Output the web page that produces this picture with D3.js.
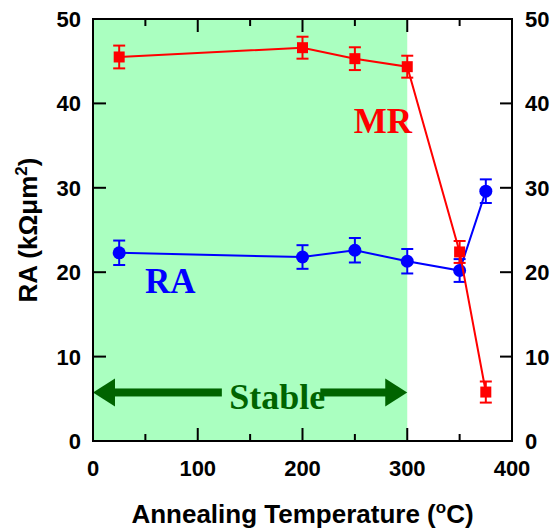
<!DOCTYPE html>
<html>
<head>
<meta charset="utf-8">
<script src="https://cdn.jsdelivr.net/npm/d3@7"></script>
<style>
  html, body { margin: 0; padding: 0; background: #fff; }
  svg { display: block; }
</style>
</head>
<body>
<script>
// ---- data ----
const temps = [25, 200, 250, 300, 350, 375];
const mrValues = [45.5, 46.6, 45.3, 44.35, 22.4, 5.8];
const mrErrors = [1.35, 1.3, 1.35, 1.3, 1.3, 1.25];
const raValues = [22.3, 21.8, 22.6, 21.3, 20.2, 29.6];
const raErrors = [1.45, 1.4, 1.45, 1.45, 1.35, 1.4];
const xTicks = [0, 100, 200, 300, 400];
const xMinorTicks = [50, 150, 250, 350];
const yTicks = [0, 10, 20, 30, 40, 50];
const stableRange = [0, 300];

const W = 553, H = 531;
const margin = {left: 93, right: 41, top: 19, bottom: 90};
const pw = W - margin.left - margin.right;
const ph = H - margin.top - margin.bottom;

const svg = d3.select("body").append("svg").attr("width", W).attr("height", H);
const g = svg.append("g").attr("transform", `translate(${margin.left},${margin.top})`);

const x = d3.scaleLinear().domain([0, 400]).range([0, pw]);
const y = d3.scaleLinear().domain([0, 50]).range([ph, 0]);

// shaded stable region
g.append("rect")
  .attr("x", x(stableRange[0])).attr("y", 0)
  .attr("width", x(stableRange[1]) - x(stableRange[0])).attr("height", ph)
  .attr("fill", "#aaffc0");

// stable arrow
const arrowY = y(5.75);
const green = "#006400";
const headL = 22, headH = 14, shaft = 8;
const gapL = x(123), gapR = x(217);
const x0 = x(stableRange[0]), x1 = x(stableRange[1]);
g.append("rect").attr("x", x0 + headL - 1).attr("y", arrowY - shaft/2)
  .attr("width", gapL - x0 - headL + 1).attr("height", shaft).attr("fill", green);
g.append("path").attr("d", `M${x0},${arrowY} L${x0+headL},${arrowY-headH} L${x0+headL},${arrowY+headH} Z`).attr("fill", green);
g.append("rect").attr("x", gapR).attr("y", arrowY - shaft/2)
  .attr("width", x1 - headL - gapR + 1).attr("height", shaft).attr("fill", green);
g.append("path").attr("d", `M${x1},${arrowY} L${x1-headL},${arrowY-headH} L${x1-headL},${arrowY+headH} Z`).attr("fill", green);
g.append("text").attr("x", x(130)).attr("y", y(3.8))
  .attr("font-family", "Liberation Serif, 'Times New Roman', serif")
  .attr("font-weight", "bold").attr("font-size", 36).attr("fill", green)
  .text("Stable");

// axes frame
const axisStyle = sel => sel.attr("stroke", "#000").attr("stroke-width", 2);
g.append("rect").attr("x", 0).attr("y", 0).attr("width", pw).attr("height", ph)
  .attr("fill", "none").call(axisStyle);

// ticks
const tickG = g.append("g");
xTicks.forEach(t => {
  tickG.append("line").attr("x1", x(t)).attr("x2", x(t)).attr("y1", ph).attr("y2", ph - 13).call(axisStyle);
  tickG.append("line").attr("x1", x(t)).attr("x2", x(t)).attr("y1", 0).attr("y2", 13).call(axisStyle);
});
xMinorTicks.forEach(t => {
  tickG.append("line").attr("x1", x(t)).attr("x2", x(t)).attr("y1", ph).attr("y2", ph - 7).call(axisStyle);
  tickG.append("line").attr("x1", x(t)).attr("x2", x(t)).attr("y1", 0).attr("y2", 7).call(axisStyle);
});
yTicks.forEach(t => {
  tickG.append("line").attr("x1", 0).attr("x2", 13).attr("y1", y(t)).attr("y2", y(t)).call(axisStyle);
  tickG.append("line").attr("x1", pw).attr("x2", pw - 12).attr("y1", y(t)).attr("y2", y(t)).call(axisStyle);
});

const labelFont = "Liberation Sans, Arial, Helvetica, sans-serif";
// tick labels
xTicks.forEach(t => {
  g.append("text").attr("x", x(t)).attr("y", ph + 35).attr("text-anchor", "middle")
    .attr("font-family", labelFont).attr("font-weight", "bold").attr("font-size", 22).text(t);
});
yTicks.forEach(t => {
  g.append("text").attr("x", -12).attr("y", y(t) + 8).attr("text-anchor", "end")
    .attr("font-family", labelFont).attr("font-weight", "bold").attr("font-size", 22).text(t);
  g.append("text").attr("x", pw + 13).attr("y", y(t) + 8).attr("text-anchor", "start")
    .attr("font-family", labelFont).attr("font-weight", "bold").attr("font-size", 22).text(t);
});

// axis titles
const xt = svg.append("text").attr("x", margin.left + pw/2).attr("y", 523).attr("text-anchor", "middle")
  .attr("font-family", labelFont).attr("font-weight", "bold").attr("font-size", 26);
xt.append("tspan").text("Annealing Temperature (");
xt.append("tspan").attr("font-size", 17).attr("dy", -10).text("o");
xt.append("tspan").attr("dy", 10).text("C)");

const yt = svg.append("text").attr("transform", `translate(37,${margin.top + ph/2}) rotate(-90)`)
  .attr("text-anchor", "middle")
  .attr("font-family", labelFont).attr("font-weight", "bold").attr("font-size", 26);
yt.append("tspan").text("RA (kΩμm");
yt.append("tspan").attr("font-size", 17).attr("dy", -10).text("2");
yt.append("tspan").attr("dy", 10).text(")");

// series drawing
function drawSeries(vals, errs, color, shape) {
  const data = temps.map((t, i) => ({t, v: vals[i], e: errs[i]}));
  const sg = g.append("g");
  sg.append("path").datum(data)
    .attr("d", d3.line().x(d => x(d.t)).y(d => y(d.v)))
    .attr("fill", "none").attr("stroke", color).attr("stroke-width", 2);
  const cap = 6;
  data.forEach(d => {
    sg.append("line").attr("x1", x(d.t)).attr("x2", x(d.t)).attr("y1", y(d.v - d.e)).attr("y2", y(d.v + d.e))
      .attr("stroke", color).attr("stroke-width", 2);
    [d.v - d.e, d.v + d.e].forEach(v => {
      sg.append("line").attr("x1", x(d.t) - cap).attr("x2", x(d.t) + cap).attr("y1", y(v)).attr("y2", y(v))
        .attr("stroke", color).attr("stroke-width", 2);
    });
    if (shape === "square") {
      sg.append("rect").attr("x", x(d.t) - 5.5).attr("y", y(d.v) - 5.5).attr("width", 11).attr("height", 11).attr("fill", color);
    } else {
      sg.append("circle").attr("cx", x(d.t)).attr("cy", y(d.v)).attr("r", 6.5).attr("fill", color);
    }
  });
}
drawSeries(raValues, raErrors, "#0000ff", "circle");
drawSeries(mrValues, mrErrors, "#ff0000", "square");

// series labels
g.append("text").attr("x", x(249)).attr("y", y(36.5))
  .attr("font-family", "Liberation Serif, 'Times New Roman', serif")
  .attr("font-weight", "bold").attr("font-size", 35).attr("fill", "#ff0000").text("MR");
g.append("text").attr("x", x(49.6)).attr("y", y(17.5))
  .attr("font-family", "Liberation Serif, 'Times New Roman', serif")
  .attr("font-weight", "bold").attr("font-size", 35).attr("fill", "#0000ff").text("RA");
</script>
</body>
</html>
